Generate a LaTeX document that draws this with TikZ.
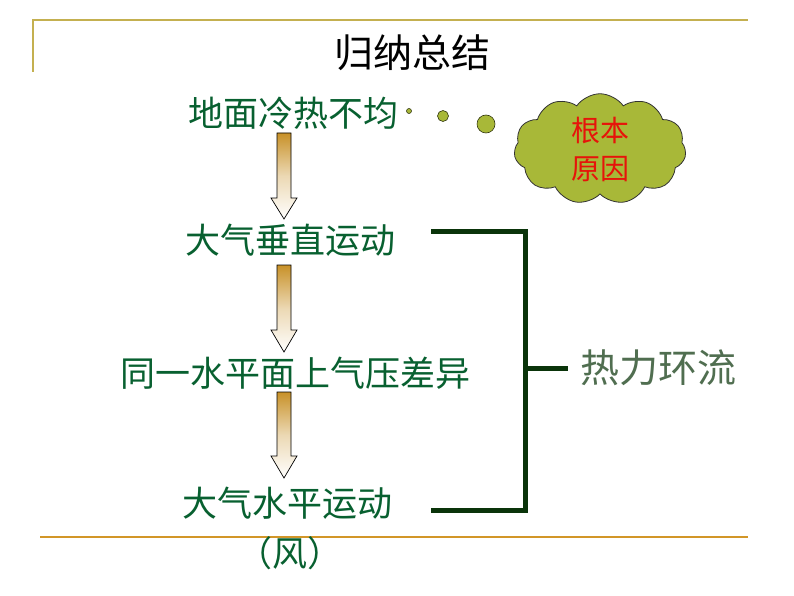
\documentclass[tikz,border=0pt]{standalone}
\usepackage{fontspec}
\setmainfont{Noto Sans CJK SC}
\usetikzlibrary{shapes.symbols}
\definecolor{txtgreen}{RGB}{8,96,48}
\definecolor{brkgreen}{RGB}{10,52,10}
\definecolor{hrgreen}{RGB}{80,110,80}
\definecolor{topgold}{RGB}{196,176,80}
\definecolor{botgold}{RGB}{210,150,40}
\definecolor{arrgold}{RGB}{200,145,40}
\definecolor{olive}{RGB}{168,184,56}
\definecolor{cloudred}{RGB}{230,20,10}
\tikzset{
  maintxt/.style={text=txtgreen, font=\fontsize{35}{38}\selectfont, inner sep=0pt},
  titletxt/.style={text=black, font=\fontsize{39}{42}\selectfont, inner sep=0pt},
  hrtxt/.style={text=hrgreen, font=\fontsize{39}{42}\selectfont, inner sep=0pt, anchor=west},
  brk/.style={draw=brkgreen, line width=5pt, line join=miter},
  rule/.style={line width=1.5pt},
  blockarrow/.style={top color=arrgold, bottom color=white, middle color=arrgold!35!white, draw=black, line width=0.7pt, line join=miter},
  dot/.style={circle, draw=black!70!olive, line width=0.6pt, fill=olive, inner sep=0pt},
  cloudbox/.style={cloud, cloud puffs=11, cloud puff arc=110, aspect=1.7, draw=black!80, line width=0.8pt, fill=olive, minimum width=172pt, minimum height=100pt, inner sep=0pt, align=center, text=cloudred, font=\fontsize{29}{38}\selectfont}
}
\begin{document}
\begin{tikzpicture}[x=1pt,y=-1pt]
\useasboundingbox (0,0) rectangle (794,596);
% frame rules
\draw[rule, draw=topgold] (33,72) -- (33,20) -- (748,20);
\draw[rule, draw=botgold] (40,537) -- (748,537);
% title
\node[titletxt] (title) at (412,53) {归纳总结};
% main chain
\node[maintxt] (t1) at (293,113) {地面冷热不均};
\node[maintxt] (t2) at (290,240) {大气垂直运动};
\node[maintxt] (t3) at (295,373) {同一水平面上气压差异};
\node[maintxt] (t4) at (287,503) {大气水平运动};
\node[maintxt] (t5) at (290,553) {（风）};
% block arrows
\shade[blockarrow] (277,133) -- (291,133) -- (291,198) -- (297,198) -- (284,219) -- (271,198) -- (277,198) -- cycle;
\shade[blockarrow] (277,265) -- (291,265) -- (291,330) -- (297,330) -- (284,352) -- (271,330) -- (277,330) -- cycle;
\shade[blockarrow] (277,392) -- (291,392) -- (291,456) -- (297,456) -- (284,478) -- (271,456) -- (277,456) -- cycle;
% thought dots and cloud
\node[dot, minimum size=5pt] (d1) at (409,111) {};
\node[dot, minimum size=11pt] (d2) at (443,116) {};
\node[dot, minimum size=18pt] (d3) at (486,124) {};
\node[cloudbox] (cl) at (600,149) {根本\\原因};
% bracket
\coordinate (bt) at (431,231);
\coordinate (bct) at (525,231);
\coordinate (bcb) at (525,510);
\coordinate (bb) at (431,510);
\coordinate (bm) at (525,368);
\coordinate (bs) at (568,368);
\draw[brk] (bt) -- (bct) -- (bcb) -- (bb);
\draw[brk] (bm) -- (bs);
\node[hrtxt] (hr) at (580,368) {热力环流};
\end{tikzpicture}
\end{document}
